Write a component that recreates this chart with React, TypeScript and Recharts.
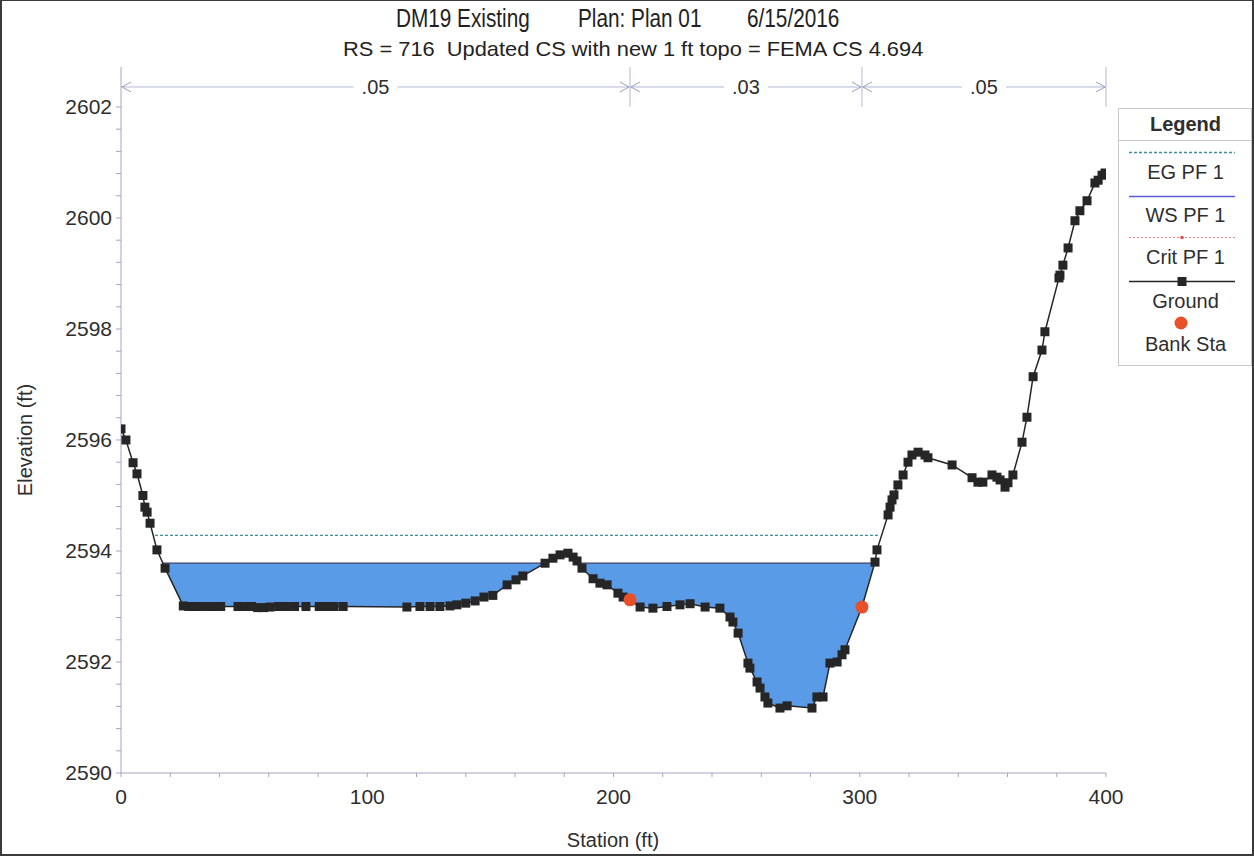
import React from 'react';
import { ComposedChart, Line, Area, Scatter, XAxis, YAxis, ReferenceLine } from 'recharts';

// Ground profile (station ft, elevation ft)
const groundStation = [
  0, 2, 4.9, 6.5, 8.9, 9.7, 10.6, 11.8, 14.6, 17.9,
  25.3, 27.5, 30, 32.5, 35, 37.5, 40.5, 47.5, 50.5, 53,
  55.5, 58, 60.5, 64, 67, 70.5, 75.1, 80.5, 83.5, 86.5,
  90.2, 116.1, 121.4, 125.5, 129.5, 133.6, 136.4, 140, 143.8, 147.4,
  151, 156.8, 160.4, 163.2, 172.2, 175.4, 178.3, 181.5, 183.6, 185.2,
  187.2, 191.7, 194.5, 197.4, 201.8, 203.9, 206.7, 210.8, 216, 221.7,
  227, 231.1, 237.2, 243.2, 247.3, 248.5, 250.6, 254.6, 255.4, 258.3,
  259.5, 261.5, 262.7, 267.6, 270.5, 280.6, 282.6, 285.1, 287.9, 290.8,
  292.8, 294, 300.9, 306.2, 307, 311.5, 312.3, 313.1, 313.9, 315.5,
  317.6, 319.6, 321.2, 323.7, 326.5, 327.7, 337.5, 345.6, 348, 350,
  353.7, 355.7, 357, 359, 360.2, 362.2, 365.9, 367.9, 370.4, 374,
  375.2, 380.9, 381.3, 382.5, 384.6, 387.4, 389.4, 392.3, 395.5, 396.8,
  398.4, 399.6,
];
const groundElev = [
  2596.2, 2596.0, 2595.59, 2595.39, 2595.0, 2594.79, 2594.7, 2594.5, 2594.02, 2593.69,
  2593.01, 2593.0, 2593.0, 2593.0, 2593.0, 2593.0, 2593.0, 2593.0, 2593.0, 2593.0,
  2592.98, 2592.98, 2592.99, 2593.0, 2593.0, 2593.0, 2593.0, 2593.0, 2593.0, 2593.0,
  2593.0, 2592.99, 2593.0, 2593.0, 2593.0, 2593.01, 2593.03, 2593.06, 2593.1, 2593.17,
  2593.2, 2593.39, 2593.48, 2593.55, 2593.78, 2593.87, 2593.93, 2593.96, 2593.89, 2593.82,
  2593.69, 2593.5, 2593.42, 2593.39, 2593.24, 2593.17, 2593.12, 2592.99, 2592.97, 2593.0,
  2593.03, 2593.05, 2592.99, 2592.97, 2592.81, 2592.72, 2592.52, 2591.98, 2591.89, 2591.64,
  2591.53, 2591.37, 2591.26, 2591.17, 2591.21, 2591.17, 2591.37, 2591.37, 2591.98, 2592.0,
  2592.13, 2592.22, 2592.99, 2593.8, 2594.02, 2594.65, 2594.79, 2594.92, 2595.01, 2595.19,
  2595.37, 2595.6, 2595.73, 2595.78, 2595.73, 2595.68, 2595.55, 2595.32, 2595.24, 2595.24,
  2595.37, 2595.33, 2595.28, 2595.15, 2595.23, 2595.37, 2595.96, 2596.41, 2597.14, 2597.62,
  2597.95, 2598.92, 2598.97, 2599.15, 2599.46, 2599.95, 2600.13, 2600.31, 2600.63, 2600.68,
  2600.77, 2600.81,
];

// Water surface & energy grade (PF 1)
const wsElev = 2593.78;
const wsStations = [17.0, 306.1];
const egElev = 2594.28;
const egStations = [13.8, 308.0];

// Bank stations
const bankStation = [206.7, 300.9];
const bankElev = [2593.12, 2592.99];

// Manning's n regions
const nStart = [0, 206.7, 300.9];
const nEnd = [206.7, 300.9, 400];
const nValues = ['.05', '.03', '.05'];
const nMarkerElev = 2602.36;

const xTicks = [0, 20, 40, 60, 80, 100, 120, 140, 160, 180, 200, 220, 240, 260, 280, 300, 320, 340, 360, 380, 400];
const yTicks = [
  2590, 2590.4, 2590.8, 2591.2, 2591.6, 2592, 2592.4, 2592.8, 2593.2, 2593.6,
  2594, 2594.4, 2594.8, 2595.2, 2595.6, 2596, 2596.4, 2596.8, 2597.2, 2597.6,
  2598, 2598.4, 2598.8, 2599.2, 2599.6, 2600, 2600.4, 2600.8, 2601.2, 2601.6, 2602,
];

const groundData = groundStation.map((x, i) => ({ x, g: groundElev[i] }));
const waterData = wsStations.map((x) => ({ x, ws: wsElev }));
const egData = egStations.map((x) => ({ x, eg: egElev }));
const bankData = bankStation.map((x, i) => ({ x, b: bankElev[i] }));

const FONT = '"Liberation Sans", Arial, sans-serif';
const AXIS = '#a4a4c4';
const TXT = '#2e2e2e';

const Square = (p: any) => {
  if (p.cx == null || p.cy == null) return null;
  return <rect key={p.index} x={p.cx - 4.5} y={p.cy - 4.5} width={9} height={9} fill="#262626" />;
};

const nLabel = (text: string) => (props: any) => {
  const vb = props.viewBox || {};
  const x1 = vb.x;
  const x2 = vb.x + vb.width;
  const y = vb.y;
  const cx = (x1 + x2) / 2;
  return (
    <g>
      <rect x={cx - 22} y={y - 12} width={44} height={24} fill="#fff" />
      <text x={cx} y={y} dy="0.36em" textAnchor="middle" fontSize={20} fill={TXT} fontFamily={FONT}>{text}</text>
      <path d={`M${x1 + 10},${y - 5} L${x1 + 1},${y} L${x1 + 10},${y + 5}`} stroke="#9aa0c4" fill="none" strokeWidth={1} />
      <path d={`M${x2 - 10},${y - 5} L${x2 - 1},${y} L${x2 - 10},${y + 5}`} stroke="#9aa0c4" fill="none" strokeWidth={1} />
    </g>
  );
};

const yFmt = (v: number) => {
  const r = Math.round(v);
  return Math.abs(v - r) < 1e-6 && r % 2 === 0 ? String(r) : '';
};
const xFmt = (v: number) => (v % 100 === 0 ? String(v) : '');

const legendText: React.CSSProperties = {
  position: 'absolute', left: 0, width: 133, textAlign: 'center', fontSize: 20, color: TXT, lineHeight: '20px',
};

const Legend = () => (
  <div style={{ position: 'absolute', left: 1118, top: 108, width: 132, height: 256, border: '1px solid #c8c8c8', background: '#fff', fontFamily: FONT }}>
    <div style={{ ...legendText, top: 5, fontWeight: 'bold' }}>Legend</div>
    <div style={{ position: 'absolute', left: 0, top: 31, width: 132, height: 1, background: '#c8c8c8' }} />
    <svg style={{ position: 'absolute', left: 0, top: 0 }} width={132} height={256}>
      <line x1={10} x2={116} y1={43.5} y2={43.5} stroke="#3b8fa0" strokeWidth={1.3} strokeDasharray="3 2" />
      <line x1={10} x2={116} y1={87.5} y2={87.5} stroke="#5b5bd6" strokeWidth={1.6} />
      <line x1={10} x2={116} y1={128.5} y2={128.5} stroke="#f08080" strokeWidth={1} strokeDasharray="2 2" />
      <circle cx={63} cy={128.5} r={1.8} fill="#e05050" />
      <line x1={10} x2={116} y1={172.5} y2={172.5} stroke="#262626" strokeWidth={1.4} />
      <rect x={58.5} y={168} width={9} height={9} fill="#262626" />
      <circle cx={62} cy={214} r={6.5} fill="#e8502a" />
    </svg>
    <div style={{ ...legendText, top: 53 }}>EG PF 1</div>
    <div style={{ ...legendText, top: 96 }}>WS PF 1</div>
    <div style={{ ...legendText, top: 138 }}>Crit PF 1</div>
    <div style={{ ...legendText, top: 182 }}>Ground</div>
    <div style={{ ...legendText, top: 225 }}>Bank Sta</div>
  </div>
);

export default function App() {
  return (
    <div style={{ position: 'absolute', left: 0, top: 0, width: 1254, height: 865, background: '#fff', fontFamily: FONT }}>
      <div style={{ position: 'absolute', left: 0, top: 0, width: 1250, height: 853, border: '2px solid #3a3a3a', borderTop: '1px solid #3a3a3a' }} />
      <div style={{ position: 'absolute', top: 4, left: 396, fontSize: 25, color: '#222', whiteSpace: 'pre', transform: 'scaleX(0.83)', transformOrigin: 'left top' }}>DM19 Existing</div>
      <div style={{ position: 'absolute', top: 4, left: 578, fontSize: 25, color: '#222', whiteSpace: 'pre', transform: 'scaleX(0.83)', transformOrigin: 'left top' }}>Plan: Plan 01</div>
      <div style={{ position: 'absolute', top: 4, left: 747, fontSize: 25, color: '#222', whiteSpace: 'pre', transform: 'scaleX(0.83)', transformOrigin: 'left top' }}>6/15/2016</div>
      <div style={{ position: 'absolute', top: 37, left: 343, fontSize: 21, color: '#222', whiteSpace: 'pre', transform: 'scaleX(1.04)', transformOrigin: 'left top' }}>RS = 716  Updated CS with new 1 ft topo = FEMA CS 4.694</div>
      <div style={{ position: 'absolute', left: 25, top: 440, fontSize: 20, color: TXT, whiteSpace: 'pre', transform: 'translate(-50%, -50%) rotate(-90deg)' }}>Elevation (ft)</div>
      <div style={{ position: 'absolute', left: 613, top: 840, fontSize: 20, color: TXT, whiteSpace: 'pre', transform: 'translate(-50%, -50%)' }}>Station (ft)</div>

      <div style={{ position: 'absolute', left: 0, top: 0 }}>
        <ComposedChart width={1254} height={865} margin={{ top: 67, right: 148, bottom: 52, left: 61 }}>
          <XAxis
            dataKey="x" type="number" domain={[0, 400]} ticks={xTicks} interval={0}
            tickFormatter={xFmt} stroke={AXIS} tickSize={4} tickMargin={12} height={40}
            tick={{ fill: TXT, fontSize: 21, fontFamily: FONT }} allowDataOverflow
          />
          <YAxis
            type="number" domain={[2590, 2602.72]} ticks={yTicks} interval={0}
            tickFormatter={yFmt} stroke={AXIS} tickSize={5} tickMargin={4} width={60}
            tick={{ fill: TXT, fontSize: 21, fontFamily: FONT }} allowDataOverflow
          />
          <Area data={waterData} dataKey="ws" type="linear" baseValue={2591} fill="#5a9be8" fillOpacity={1}
            stroke="#3c3c66" strokeWidth={1.3} isAnimationActive={false} dot={false} activeDot={false} />
          <Area data={groundData} dataKey="g" type="linear" baseValue={2590.8} fill="#ffffff" fillOpacity={1}
            stroke="none" isAnimationActive={false} dot={false} activeDot={false} />
          <Line data={egData} dataKey="eg" type="linear" stroke="#3b8fa0" strokeWidth={1.3} strokeDasharray="3 2"
            dot={false} activeDot={false} isAnimationActive={false} />
          <Line data={groundData} dataKey="g" type="linear" stroke="#262626" strokeWidth={1.5}
            dot={Square} activeDot={false} isAnimationActive={false} />
          <Scatter data={bankData} dataKey="b" isAnimationActive={false}
            shape={(p: any) => <circle cx={p.cx} cy={p.cy} r={6.5} fill="#e8502a" />} />
          {nStart.map((s, i) => (
            <ReferenceLine key={'n' + i} segment={[{ x: s, y: nMarkerElev }, { x: nEnd[i], y: nMarkerElev }]}
              stroke="#b4b8d2" strokeWidth={1} ifOverflow="visible" label={nLabel(nValues[i])} />
          ))}
          {nEnd.map((s, i) => (
            <ReferenceLine key={'v' + i} segment={[{ x: s, y: 2602 }, { x: s, y: 2602.72 }]}
              stroke="#b4b8d2" strokeWidth={1} ifOverflow="visible" />
          ))}
        </ComposedChart>
      </div>
      <Legend />
    </div>
  );
}
